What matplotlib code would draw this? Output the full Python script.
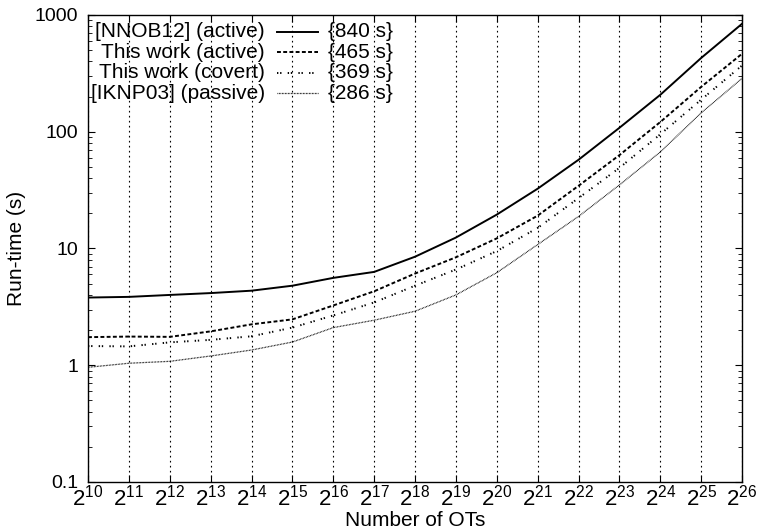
import numpy as np
import matplotlib.pyplot as plt

plt.rcParams['font.family'] = ['Liberation Sans', 'DejaVu Sans']
plt.rcParams['mathtext.fontset'] = 'custom'
plt.rcParams['mathtext.rm'] = 'Liberation Sans'
plt.rcParams['mathtext.default'] = 'regular'

exponents = np.arange(10, 27)
num_ots = 2.0 ** exponents

nnob12_active = [3.8, 3.85, 4.0, 4.15, 4.35, 4.8, 5.6, 6.3, 8.5, 12.4, 19.5, 32.5, 57.5, 108, 207, 428, 840]
ours_active = [1.74, 1.76, 1.75, 1.95, 2.24, 2.47, 3.25, 4.3, 6.1, 8.4, 12.2, 19.1, 34.4, 63, 121, 242, 465]
ours_covert = [1.46, 1.45, 1.57, 1.65, 1.77, 2.1, 2.67, 3.45, 4.8, 6.6, 9.5, 15, 27, 49, 95, 188, 369]
iknp03_passive = [0.96, 1.04, 1.08, 1.2, 1.35, 1.58, 2.1, 2.43, 2.9, 4.0, 6.2, 10.8, 18.8, 35, 67, 145, 286]

labels = ['[NNOB12] (active)', 'This work (active)', 'This work (covert)', '[IKNP03] (passive)']
totals = ['{840 s}', '{465 s}', '{369 s}', '{286 s}']
series = [nnob12_active, ours_active, ours_covert, iknp03_passive]
styles = [
    dict(linestyle='-', linewidth=1.4),
    dict(linestyle=(0, (2.0, 1.2)), linewidth=1.4),
    dict(linestyle=(0, (0.7, 0.9, 0.7, 3.2)), linewidth=1.4),
    dict(linestyle=(0, (0.6, 0.6)), linewidth=0.9),
]

fig = plt.figure(figsize=(7.58, 5.31), dpi=100)
ax = fig.add_axes([0.1161, 0.0923, 0.8628, 0.8795])

for vals, st in zip(series, styles):
    ax.plot(num_ots, vals, color='black', **st)

ax.set_xscale('log', base=2)
ax.set_yscale('log')
ax.set_xlim(num_ots[0], num_ots[-1])
ax.set_ylim(0.1, 1000)

ax.set_xticks(num_ots)
ax.set_xticklabels([f'$2^{{{e}}}$' for e in exponents])
ax.xaxis.set_minor_locator(plt.NullLocator())
ax.set_yticks([0.1, 1, 10, 100, 1000])
ax.set_yticklabels(['0.1', '1', '10', '100', '1000'])

ax.tick_params(which='both', direction='in', top=True, right=True)
ax.tick_params(which='major', length=5)
ax.tick_params(which='minor', length=3)
ax.tick_params(axis='y', labelsize=14, pad=7)
ax.tick_params(axis='x', labelsize=16, pad=2)
ax.grid(axis='x', which='major', color='black', linestyle=(0, (1.5, 3)), linewidth=0.8)

for sp in ax.spines.values():
    sp.set_linewidth(1.0)

ax.set_xlabel('Number of OTs', fontsize=15, labelpad=0)
ax.set_ylabel('Run-time (s)', fontsize=15, labelpad=6)

# gnuplot-style key: right-aligned label, line sample, total
row_y = 0.9636
for i, (lab, tot, st) in enumerate(zip(labels, totals, styles)):
    y = row_y - i * 0.0439
    ax.text(0.2706, y, lab, transform=ax.transAxes, ha='right', va='center', fontsize=15)
    ax.plot([0.289, 0.3517], [y, y], transform=ax.transAxes, color='black', **st)
    ax.text(0.367, y, tot, transform=ax.transAxes, ha='left', va='center', fontsize=15)

fig.savefig('out.png', dpi=100)
